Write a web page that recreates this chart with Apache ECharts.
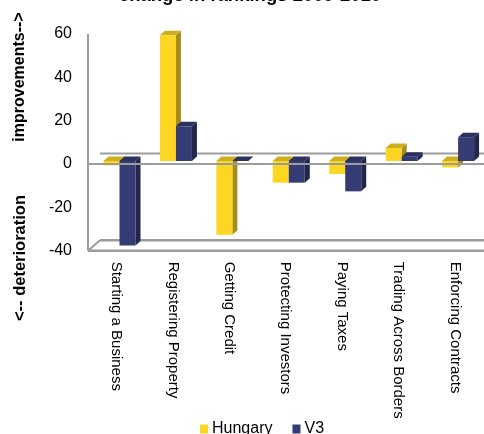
<!DOCTYPE html>
<html>
<head>
<meta charset="utf-8">
<script src="https://cdn.jsdelivr.net/npm/echarts@6/dist/echarts.min.js"></script>
<style>
  html, body { margin: 0; padding: 0; background: #fff; }
  #chart { width: 484px; height: 434px; }
</style>
</head>
<body>
<div id="chart"></div>
<script>
// Doing Business: change in rankings 2009-2010
const categories = [
  'Starting a Business',
  'Registering Property',
  'Getting Credit',
  'Protecting Investors',
  'Paying Taxes',
  'Trading Across Borders',
  'Enforcing Contracts'
];
const hungary = [-2, 58, -34, -10, -6, 6, -3];
const v3 = [-39, 16, 0, -10, -14, 2, 11];
const yMin = -40;
const yMax = 60;
const yStep = 20;

const FONT = 'Liberation Sans, Arial, sans-serif';
const GRID_COLOR = '#9c9c9c';

// pseudo-3D geometry (pixels)
const WALL = [12, -10.5];   // back wall offset
const PLANE = [3.3, -3];    // plane the bars stand in
const DEPTH = [5, -4.5];    // bar depth
const BAR_W = 16;

const palette = {
  Hungary: { front: '#FDD523', side: '#A88C1A', top: '#CDAE1E' },
  V3: { front: '#353B73', side: '#22264A', top: '#2C315F' }
};

function barRenderer(name, side) {
  const c = palette[name];
  return function (params, api) {
    const idx = api.value(0);
    const val = api.value(1);
    const p0 = api.coord([idx, 0]);
    const p1 = api.coord([idx, val]);
    const x0 = p0[0] + PLANE[0] + (side < 0 ? -BAR_W : 0);
    const yT = Math.min(p0[1], p1[1]) + PLANE[1];
    const yB = Math.max(p0[1], p1[1]) + PLANE[1];
    const x1 = x0 + BAR_W;
    const dx = DEPTH[0], dy = DEPTH[1];
    return {
      type: 'group',
      children: [
        { type: 'polygon', shape: { points: [[x1, yT], [x1 + dx, yT + dy], [x1 + dx, yB + dy], [x1, yB]] },
          style: { fill: c.side } },
        { type: 'polygon', shape: { points: [[x0, yT], [x0 + dx, yT + dy], [x1 + dx, yT + dy], [x1, yT]] },
          style: { fill: c.top } },
        { type: 'rect', shape: { x: x0, y: yT, width: BAR_W, height: Math.max(yB - yT, 0) },
          style: { fill: c.front } }
      ]
    };
  };
}

function frameRenderer(params, api) {
  const cs = params.coordSys;
  const left = cs.x;
  const right = 484;
  const yTop = api.coord([0, yMax])[1];
  const yFloor = api.coord([0, yMin])[1];
  const yZero = api.coord([0, 0])[1];
  const ln = (x1, y1, x2, y2, w) => ({
    type: 'line', shape: { x1, y1, x2, y2 },
    style: { stroke: GRID_COLOR, lineWidth: w }
  });
  return {
    type: 'group',
    children: [
      ln(left, yTop, left, yFloor, 2),
      ln(left, yFloor, right, yFloor, 2.5),
      ln(left, yFloor, left + WALL[0], yFloor + WALL[1], 2),
      ln(left + WALL[0], yFloor + WALL[1], right, yFloor + WALL[1], 2.5),
      ln(left + WALL[0], yZero + WALL[1], right, yZero + WALL[1], 2)
    ]
  };
}

function zeroLineRenderer(params, api) {
  const cs = params.coordSys;
  const yZero = api.coord([0, 0])[1];
  return {
    type: 'line', shape: { x1: cs.x, y1: yZero, x2: 484, y2: yZero },
    style: { stroke: GRID_COLOR, lineWidth: 2 }
  };
}

const chart = echarts.init(document.getElementById('chart'), null, { renderer: 'canvas' });
chart.setOption({
  animation: false,
  backgroundColor: '#fff',
  textStyle: { fontFamily: FONT, color: '#000' },
  grid: { left: 88, right: 1, top: 34, bottom: 183.3 },
  legend: {
    data: ['Hungary', 'V3'],
    left: 195, top: 416,
    icon: 'rect', itemWidth: 8, itemHeight: 9, itemGap: 20,
    textStyle: { fontSize: 16, fontFamily: FONT, color: '#000', padding: [0, 0, 0, -1] }
  },
  xAxis: {
    type: 'category',
    data: categories,
    axisLine: { show: false },
    axisTick: { show: false },
    splitLine: { show: false },
    axisLabel: { rotate: -90, margin: 11, fontSize: 15, color: '#000', fontFamily: FONT, interval: 0 }
  },
  yAxis: {
    type: 'value',
    min: yMin, max: yMax, interval: yStep,
    axisLine: { show: false },
    axisTick: { show: false },
    splitLine: { show: false },
    axisLabel: { margin: 16, fontSize: 16, color: '#000', fontFamily: FONT }
  },
  graphic: [
    { type: 'text', x: 250, y: 5, z: 10,
      style: { text: 'change in rankings 2009-2010', font: 'bold 18.5px ' + FONT, fill: '#000',
               textAlign: 'center', textVerticalAlign: 'bottom' } },
    { type: 'text', x: 20, y: 77, rotation: Math.PI / 2,
      style: { text: 'improvements-->', font: 'bold 16px ' + FONT, fill: '#000',
               textAlign: 'center', textVerticalAlign: 'middle' } },
    { type: 'text', x: 20, y: 258, rotation: Math.PI / 2,
      style: { text: '<-- deterioration', font: 'bold 16.5px ' + FONT, fill: '#000',
               textAlign: 'center', textVerticalAlign: 'middle' } }
  ],
  series: [
    { type: 'custom', name: 'frame', z: 1, clip: false, silent: true,
      renderItem: frameRenderer, data: [[0, 0]], encode: { x: 0, y: 1 } },
    { type: 'custom', name: 'Hungary', z: 2, clip: false,
      itemStyle: { color: palette.Hungary.front },
      renderItem: barRenderer('Hungary', -1),
      data: hungary.map((v, i) => [i, v]), encode: { x: 0, y: 1 } },
    { type: 'custom', name: 'V3', z: 3, clip: false,
      itemStyle: { color: palette.V3.front },
      renderItem: barRenderer('V3', 1),
      data: v3.map((v, i) => [i, v]), encode: { x: 0, y: 1 } },
    { type: 'custom', name: 'zero', z: 4, clip: false, silent: true,
      renderItem: zeroLineRenderer, data: [[0, 0]], encode: { x: 0, y: 1 } }
  ]
});
</script>
</body>
</html>
